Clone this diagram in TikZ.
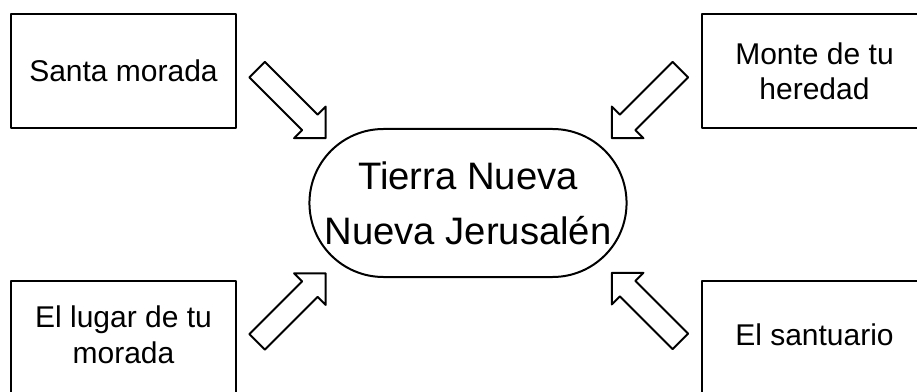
\documentclass[tikz,border=0pt]{standalone}
\usepackage{fontspec}
\setmainfont{Liberation Sans}
\usetikzlibrary{shapes.misc,shapes.arrows}
\begin{document}
\begin{tikzpicture}[x=0.75pt,y=-0.75pt]
 \tikzset{place/.style={draw, line width=1.5pt, line join=round, minimum width=168.75pt, minimum height=85.5pt, align=center, font=\fontsize{22.5}{26.5}\selectfont}}
 \tikzset{hollow/.style={draw, single arrow, single arrow tip angle=90, single arrow head extend=8.5pt, minimum height=72.75pt, inner xsep=0pt, inner ysep=7.5pt, line width=1.5pt, line join=round}}
  \useasboundingbox (0,0) rectangle (917,392);
  \node[place] (S1) at (123.5,71) {Santa morada};
  \node[place] (S2) at (814.5,71) {Monte de tu\\heredad};
  \node[place, text depth=5pt] (S3) at (123.5,338) {El lugar de tu\\morada};
  \node[place, text depth=5pt] (S4) at (814.5,338) {El santuario};
  \node[draw, rounded rectangle, line width=1.5pt, minimum width=244.5pt, minimum height=111pt, align=center, font=\fontsize{28.7}{41.25}\selectfont] (N) at (468,203) {Tierra Nueva\\Nueva Jerusalén};
  \node[hollow, rotate=-45] (A1) at (287.5,100) {};
  \node[hollow, rotate=225] (A2) at (650,100) {};
  \node[hollow, rotate=45] (A3) at (287.5,311.5) {};
  \node[hollow, rotate=135] (A4) at (650,311) {};
\end{tikzpicture}
\end{document}
